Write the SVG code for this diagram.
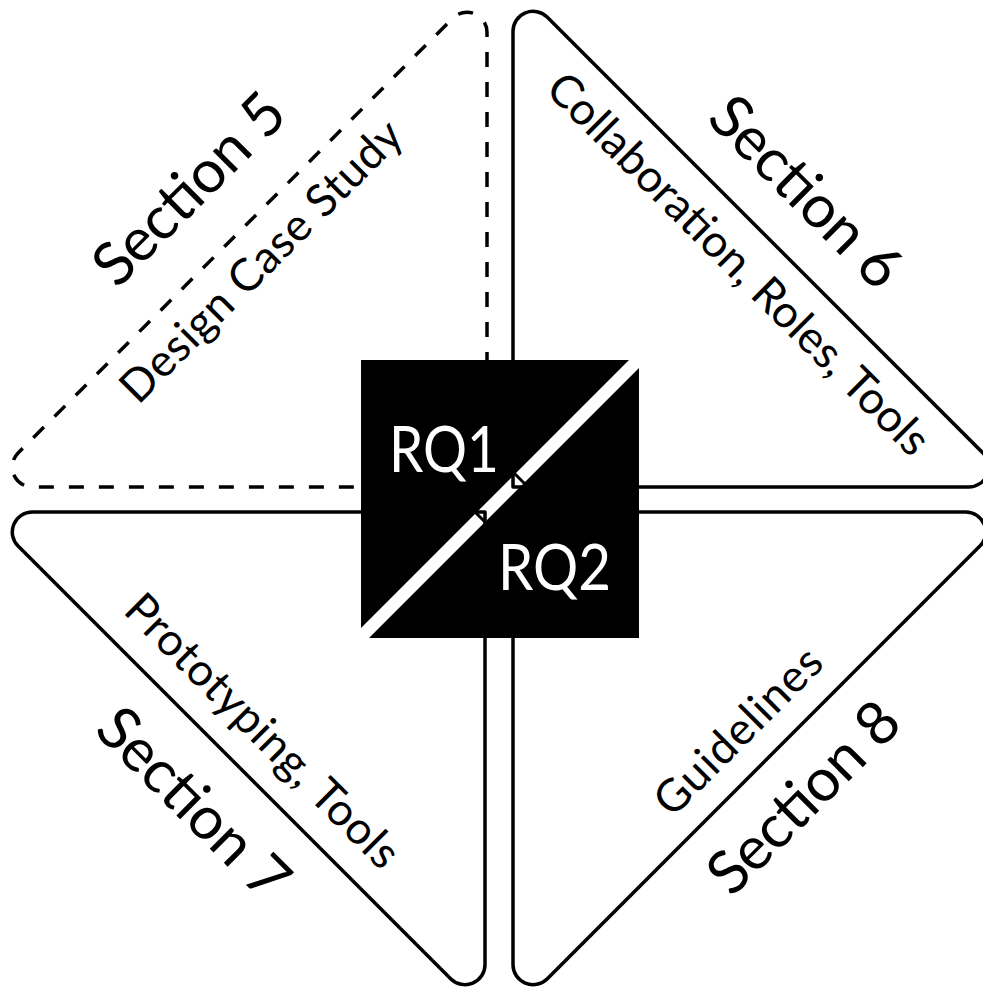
<svg xmlns="http://www.w3.org/2000/svg" width="983" height="989" viewBox="0 0 983 989">
  <style>
    .tri { fill: #fff; stroke: #000; stroke-width: 3.5; stroke-linejoin: round; }
    .dashed { stroke-dasharray: 15 15; stroke-linecap: butt; }
    .label { font-family: Lato, "Open Sans", "Liberation Sans", sans-serif; fill: #000; text-anchor: middle; }
    .sec { font-size: 60px; }
    .sub { font-size: 45px; }
    .rq { font-family: Lato, "Open Sans", "Liberation Sans", sans-serif; font-size: 64px; fill: #fff; }
    .tick { stroke: #000; stroke-width: 3; }
  </style>
  <rect width="983" height="989" fill="#fff"/>

  <!-- Section 5: dashed quadrant, top-left -->
  <g id="section5">
    <path class="tri dashed" d="M 487 487 L 487 32.3 A 20 20 0 0 0 452.9 18.1 L 18.1 452.9 A 20 20 0 0 0 32.3 487 Z"/>
    <text class="label sec" transform="translate(203.5 203.5) rotate(-45)" textLength="244">Section 5</text>
    <text class="label sub" transform="translate(272 272) rotate(-45)" textLength="378">Design Case Study</text>
  </g>

  <!-- Section 6: top-right -->
  <g id="section6">
    <path class="tri" d="M 513 487 L 513 31.3 A 20 20 0 0 1 547.1 17.1 L 982.9 452.9 A 20 20 0 0 1 968.7 487 Z"/>
    <text class="label sec" transform="translate(791.5 206.5) rotate(45)" textLength="244">Section 6</text>
    <text class="label sub" transform="translate(727.8 274.8) rotate(45)" textLength="520">Collaboration, Roles, Tools</text>
  </g>

  <!-- Section 7: bottom-left -->
  <g id="section7">
    <path class="tri" d="M 485 512 L 32.3 512 A 20 20 0 0 0 18.1 546.1 L 450.9 978.9 A 20 20 0 0 0 485 964.7 Z"/>
    <text class="label sec" transform="translate(179 818) rotate(45)" textLength="244">Section 7</text>
    <text class="label sub" transform="translate(251.8 741.8) rotate(45)" textLength="367">Prototyping, Tools</text>
  </g>

  <!-- Section 8: bottom-right -->
  <g id="section8">
    <path class="tri" d="M 513 512 L 513 964.7 A 20 20 0 0 0 547.1 978.9 L 979.9 546.1 A 20 20 0 0 0 965.7 512 Z"/>
    <text class="label sec" transform="translate(818 812) rotate(-45)" textLength="244">Section 8</text>
    <text class="label sub" transform="translate(749 742) rotate(-45)" textLength="217">Guidelines</text>
  </g>

  <!-- Central research-question block split along the diagonal -->
  <g id="rq">
    <polygon fill="#000" points="361,360 629,360 361,628"/>
    <polygon fill="#000" points="639,368 639,638 369,638"/>
    <line class="tick" x1="512.5" y1="471.5" x2="526.5" y2="485.5"/>
    <line class="tick" x1="473.5" y1="510.5" x2="487.5" y2="524.5"/>
    <text class="rq" x="389" y="472" textLength="110" lengthAdjust="spacingAndGlyphs">RQ1</text>
    <text class="rq" x="498" y="590" textLength="113" lengthAdjust="spacingAndGlyphs">RQ2</text>
  </g>
</svg>
